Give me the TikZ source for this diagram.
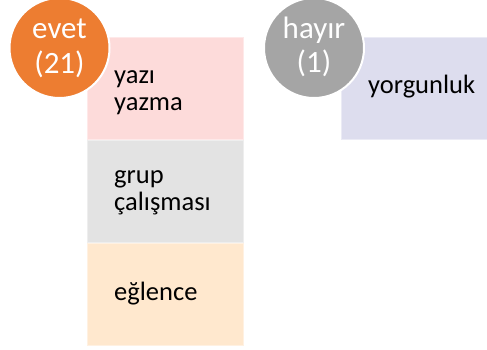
\documentclass[tikz,border=0pt]{standalone}
\usepackage{fontspec}
\setmainfont{Carlito}
\definecolor{evetorange}{HTML}{ED7D31}
\definecolor{hayirgray}{HTML}{A5A5A5}
\definecolor{boxpink}{HTML}{FDDBDA}
\definecolor{boxgray}{HTML}{E3E3E3}
\definecolor{boxpeach}{HTML}{FFE8CE}
\definecolor{boxlav}{HTML}{DDDDEE}
\tikzset{
  itembox/.style={rectangle, minimum width=156pt, minimum height=102pt,
    line width=0.8pt, inner sep=0pt},
  itemtext/.style={anchor=base west, font=\fontsize{26.5}{27}\selectfont,
    text=black, inner sep=0pt},
  badge/.style={circle, minimum size=100pt, inner sep=0pt, draw=white,
    line width=2pt},
  badgetext/.style={anchor=base, text=white, inner sep=0pt,
    font=\fontsize{31}{33}\selectfont},
}
\begin{document}
\begin{tikzpicture}[x=1pt,y=1pt]
  \useasboundingbox (0,0) rectangle (487,349);
  % "evet" column of items
  \node[itembox, fill=boxpink, draw=boxpink!60!white] (b1) at (165.5,261) {};
  \node[itembox, fill=boxgray, draw=boxgray!60!white] (b2) at (165.5,158) {};
  \node[itembox, fill=boxpeach, draw=boxpeach!60!white] (b3) at (165.5,55) {};
  \node[itemtext] (t1a) at (114,266) {yazı};
  \node[itemtext] (t1b) at (114,239) {yazma};
  \node[itemtext] (t2a) at (114,166) {grup};
  \node[itemtext] (t2b) at (114,139) {çalışması};
  \node[itemtext] (t3) at (114,49) {eğlence};
  % "hayır" column
  \node[itembox, minimum width=146pt, fill=boxlav, draw=boxlav!60!white] (b4) at (414,261) {};
  \node[itemtext] (t4) at (368,256) {yorgunluk};
  % badges
  \node[badge, fill=evetorange] (evet) at (59.5,301) {};
  \node[badgetext] (evet1) at (59.5,310) {evet};
  \node[badgetext] (evet2) at (59.5,276) {(21)};
  \node[badge, fill=hayirgray] (hayir) at (314,301) {};
  \node[badgetext] (hayir1) at (314,310) {hayır};
  \node[badgetext] (hayir2) at (314,277) {(1)};
\end{tikzpicture}
\end{document}
